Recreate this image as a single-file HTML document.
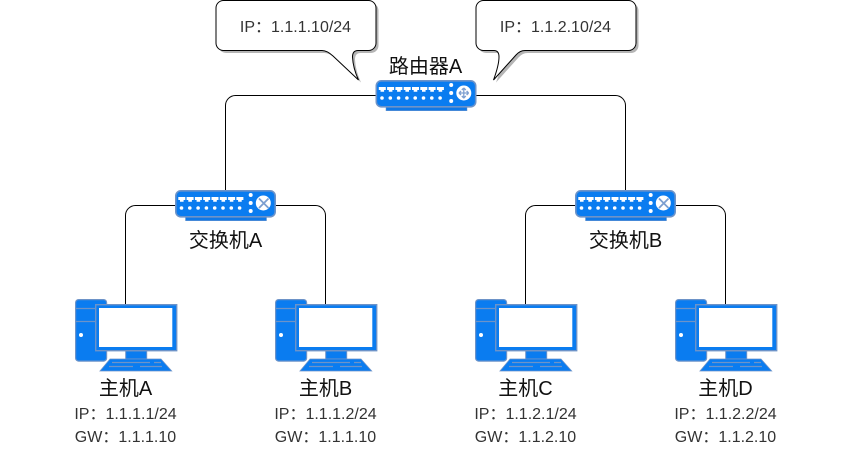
<!DOCTYPE html>
<html><head><meta charset="utf-8"><style>
html,body{margin:0;padding:0;background:#fff;width:851px;height:472px;overflow:hidden}
svg{display:block}
text{font-family:"Liberation Sans","Noto Sans CJK SC",sans-serif;text-anchor:middle}
.n{font-size:20px;fill:#111}
.i{font-size:16px;fill:#333}
</style></head><body>
<svg width="851" height="472" viewBox="0 0 851 472" xmlns="http://www.w3.org/2000/svg">
<defs>
<g id="sw">
<rect x="10.500" y="26" width="81" height="4.700" fill="#0f78e6" stroke="#6d93c8" stroke-width="0.500"/>
<rect x="0.800" y="0.800" width="99.400" height="26" rx="5" fill="#0a7cf0" stroke="#6d93c8" stroke-width="1.600"/>
<g fill="#fff">
<path d="M3.300 7h7v3h-1.700v1.700h-3.600v-1.700h-1.700z"/>
<path d="M11.600 7h7v3h-1.700v1.700h-3.600v-1.700h-1.700z"/>
<path d="M19.900 7h7v3h-1.700v1.700h-3.600v-1.700h-1.700z"/>
<path d="M28.200 7h7v3h-1.700v1.700h-3.600v-1.700h-1.700z"/>
<path d="M36.500 7h7v3h-1.700v1.700h-3.600v-1.700h-1.700z"/>
<path d="M44.800 7h7v3h-1.700v1.700h-3.600v-1.700h-1.700z"/>
<path d="M53.100 7h7v3h-1.700v1.700h-3.600v-1.700h-1.700z"/>
<path d="M61.400 7h7v3h-1.700v1.700h-3.600v-1.700h-1.700z"/>
<circle cx="6.500" cy="18" r="1.800"/><circle cx="14.800" cy="18" r="1.800"/><circle cx="23.100" cy="18" r="1.800"/><circle cx="31.400" cy="18" r="1.800"/><circle cx="39.700" cy="18" r="1.800"/><circle cx="48" cy="18" r="1.800"/><circle cx="56.300" cy="18" r="1.800"/><circle cx="64.600" cy="18" r="1.800"/>
<circle cx="75.700" cy="5" r="2"/><circle cx="75.700" cy="13" r="2"/><circle cx="75.700" cy="21" r="2"/>
<circle cx="88.300" cy="13" r="7.500"/>
</g>
</g>
<g id="pc">
<rect x="0.600" y="0.600" width="31" height="61.500" rx="3" fill="#0a7cf0" stroke="#6d93c8" stroke-width="1.200"/>
<path d="M0 9.500h32M0 22.500h32" stroke="#6d93c8" stroke-width="1.200"/>
<circle cx="6" cy="36" r="2" fill="#fff"/>
<rect x="20.700" y="5.700" width="81" height="46" fill="#0a7cf0" stroke="#6d93c8" stroke-width="1.400"/>
<rect x="24" y="9" width="73.300" height="39" fill="#fff"/>
<rect x="50.700" y="52" width="21" height="8" fill="#0a7cf0" stroke="#6d93c8" stroke-width="1"/>
<path d="M35 60h51l10.700 12h-71.700z" fill="#0a7cf0" stroke="#6d93c8" stroke-width="0.800"/>
<path d="M37 63.500h38M79 63.500h7M34 67.500h24M65 67.500h22" stroke="#6d93c8" stroke-width="1.200"/>
</g>
<path id="cl" d="M223.500 .5H368.500a7.500 7.500 0 0 1 7.500 7.500V43a7.500 7.500 0 0 1 -7.500 7.500H358Q352.500 50.500 352.500 57Q353 68 358.500 80L333 56Q327 50.500 322 50.500H223.500a7.500 7.500 0 0 1 -7.500 -7.500V8a7.500 7.500 0 0 1 7.500 -7.500z"/>
<path id="cr" d="M483.500 .5H628.500a7.500 7.500 0 0 1 7.500 7.500V43a7.500 7.500 0 0 1 -7.500 7.500H525Q520 50.500 516 55L493.500 80Q499 65 499 57Q499 50.500 494 50.500H483.500a7.500 7.500 0 0 1 -7.500 -7.500V8a7.500 7.500 0 0 1 7.500 -7.500z"/>
</defs>

<g fill="none" stroke="#000" stroke-width="1">
<path d="M375.500 95.500H235.500a10 10 0 0 0 -10 10V190"/>
<path d="M476 95.500H615.500a10 10 0 0 1 10 10V190"/>
<path d="M175 205.500H135.500a10 10 0 0 0 -10 10V305"/>
<path d="M276 205.500H315.500a10 10 0 0 1 10 10V305"/>
<path d="M575 205.500H535.500a10 10 0 0 0 -10 10V305"/>
<path d="M676 205.500H715.500a10 10 0 0 1 10 10V305"/>
</g>

<use href="#cl" transform="translate(2.500 2.500)" fill="#b5b5b5"/>
<use href="#cl" fill="#fff" stroke="#000" stroke-width="1"/>
<use href="#cr" transform="translate(2.500 2.500)" fill="#b5b5b5"/>
<use href="#cr" fill="#fff" stroke="#000" stroke-width="1"/>
<text class="i" x="295.500" y="32">IP：1.1.1.10/24</text>
<text class="i" x="555.500" y="32">IP：1.1.2.10/24</text>

<use href="#sw" x="375.500" y="80"/>
<use href="#sw" x="175" y="190"/>
<use href="#sw" x="575" y="190"/>

<g fill="none" stroke="#7d9fd0" stroke-width="1.300">
<path d="M458.800 93H468.800M463.800 88V98M459 93l2 -2M459 93l2 2M468.600 93l-2 -2M468.600 93l-2 2M463.800 88l-2 2M463.800 88l2 2M463.800 98l-2 -2M463.800 98l2 -2"/>
<path d="M259 198.500l9.500 9.500M268.500 198.500l-9.500 9.500" stroke-width="1.800"/>
<path d="M659 198.500l9.500 9.500M668.500 198.500l-9.500 9.500" stroke-width="1.800"/>
</g>

<use href="#pc" x="75" y="299"/>
<use href="#pc" x="275" y="299"/>
<use href="#pc" x="475" y="299"/>
<use href="#pc" x="675" y="299"/>

<text class="n" x="425.500" y="73">路由器A</text>
<text class="n" x="225.500" y="247">交换机A</text>
<text class="n" x="625.500" y="247">交换机B</text>

<text class="n" x="125.500" y="395">主机A</text>
<text class="n" x="325.500" y="395">主机B</text>
<text class="n" x="525.500" y="395">主机C</text>
<text class="n" x="725.500" y="395">主机D</text>

<text class="i" x="125.500" y="419">IP：1.1.1.1/24</text>
<text class="i" x="325.500" y="419">IP：1.1.1.2/24</text>
<text class="i" x="525.500" y="419">IP：1.1.2.1/24</text>
<text class="i" x="725.500" y="419">IP：1.1.2.2/24</text>

<text class="i" x="125.500" y="442">GW：1.1.1.10</text>
<text class="i" x="325.500" y="442">GW：1.1.1.10</text>
<text class="i" x="525.500" y="442">GW：1.1.2.10</text>
<text class="i" x="725.500" y="442">GW：1.1.2.10</text>
</svg>
</body></html>
